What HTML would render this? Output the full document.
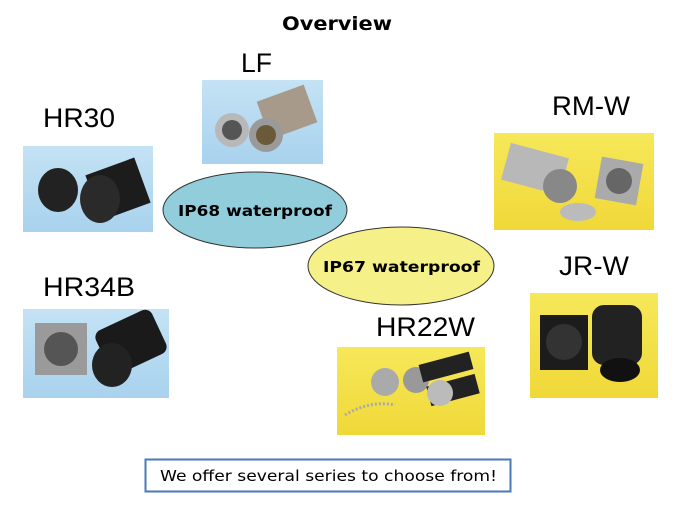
<!DOCTYPE html>
<html><head><meta charset="utf-8"><style>
body{margin:0;width:675px;height:506px;background:#fff;overflow:hidden}
svg{display:block}
</style></head><body>
<svg width="675" height="506" xmlns="http://www.w3.org/2000/svg" font-family="'DejaVu Sans','Liberation Sans',sans-serif">
<defs>
<linearGradient id="bl" x1="0" y1="0" x2="0" y2="1"><stop offset="0" stop-color="#c4e2f4"/><stop offset="1" stop-color="#a9d2ee"/></linearGradient>
<linearGradient id="ye" x1="0" y1="0" x2="0" y2="1"><stop offset="0" stop-color="#f6e85a"/><stop offset="1" stop-color="#f0d838"/></linearGradient>
</defs>
<text x="282" y="30" font-size="19" font-weight="bold" fill="#000" textLength="110" lengthAdjust="spacingAndGlyphs">Overview</text>

<g font-size="27" font-family="'Liberation Sans',sans-serif">
<text x="241" y="72" textLength="31" lengthAdjust="spacingAndGlyphs">LF</text>
<text x="43" y="127" textLength="72" lengthAdjust="spacingAndGlyphs">HR30</text>
<text x="552" y="115" textLength="78" lengthAdjust="spacingAndGlyphs">RM-W</text>
<text x="559" y="275" textLength="70" lengthAdjust="spacingAndGlyphs">JR-W</text>
<text x="43" y="296" textLength="92" lengthAdjust="spacingAndGlyphs">HR34B</text>
<text x="376" y="336" textLength="99" lengthAdjust="spacingAndGlyphs">HR22W</text>
</g>

<!-- LF -->
<rect x="202" y="80" width="121" height="84" fill="url(#bl)"/>
<circle cx="232" cy="130" r="17" fill="#b8b8b8"/><circle cx="232" cy="130" r="10" fill="#555"/>
<rect x="262" y="92" width="50" height="40" fill="#a89a8a" transform="rotate(-20 287 112)"/>
<circle cx="266" cy="135" r="17" fill="#9a9a9a"/><circle cx="266" cy="135" r="10" fill="#6a5a3a"/>
<!-- HR30 -->
<rect x="23" y="146" width="130" height="86" fill="url(#bl)"/>
<ellipse cx="58" cy="190" rx="20" ry="22" fill="#222"/>
<rect x="92" y="165" width="52" height="48" fill="#1c1c1c" transform="rotate(-20 118 189)"/>
<ellipse cx="100" cy="199" rx="20" ry="24" fill="#2a2a2a"/>
<!-- RM-W -->
<rect x="494" y="133" width="160" height="97" fill="url(#ye)"/>
<rect x="505" y="150" width="60" height="38" fill="#b8b8b8" transform="rotate(15 535 169)"/>
<circle cx="560" cy="186" r="17" fill="#888"/>
<ellipse cx="578" cy="212" rx="18" ry="9" fill="#bbb"/>
<rect x="598" y="160" width="42" height="42" fill="#aaa" transform="rotate(10 619 181)"/>
<circle cx="619" cy="181" r="13" fill="#666"/>
<!-- JR-W -->
<rect x="530" y="293" width="128" height="105" fill="url(#ye)"/>
<rect x="540" y="315" width="48" height="55" fill="#1c1c1c"/>
<circle cx="564" cy="342" r="18" fill="#333"/>
<rect x="592" y="305" width="50" height="60" rx="12" fill="#222"/>
<ellipse cx="620" cy="370" rx="20" ry="12" fill="#111"/>
<!-- HR34B -->
<rect x="23" y="309" width="146" height="89" fill="url(#bl)"/>
<rect x="35" y="323" width="52" height="52" fill="#9a9a9a"/>
<circle cx="61" cy="349" r="17" fill="#555"/>
<rect x="100" y="318" width="62" height="48" rx="8" fill="#1a1a1a" transform="rotate(-25 131 342)"/>
<ellipse cx="112" cy="365" rx="20" ry="22" fill="#222"/>
<!-- HR22W -->
<rect x="337" y="347" width="148" height="88" fill="url(#ye)"/>
<circle cx="385" cy="382" r="14" fill="#aaa"/>
<ellipse cx="416" cy="380" rx="13" ry="13" fill="#999"/>
<rect x="420" y="358" width="52" height="18" fill="#222" transform="rotate(-15 446 367)"/>
<rect x="428" y="380" width="50" height="20" fill="#222" transform="rotate(-15 453 390)"/>
<circle cx="440" cy="393" r="13" fill="#bbb"/>
<path d="M345 415 Q370 400 395 405" stroke="#aaa" stroke-width="3" fill="none" stroke-dasharray="2 2"/>

<ellipse cx="255" cy="210" rx="92" ry="38" fill="#92cddc" stroke="#333" stroke-width="1"/>
<text x="178" y="216" font-size="15" font-weight="bold" fill="#000" textLength="154" lengthAdjust="spacingAndGlyphs">IP68 waterproof</text>
<ellipse cx="401" cy="266" rx="93" ry="39" fill="#f5f088" stroke="#333" stroke-width="1"/>
<text x="323" y="272" font-size="15" font-weight="bold" fill="#000" textLength="157" lengthAdjust="spacingAndGlyphs">IP67  waterproof</text>

<rect x="145.5" y="459.5" width="365" height="32" fill="#fff" stroke="#4a7ab8" stroke-width="2"/>
<text x="160" y="481" font-size="15" fill="#000" textLength="337" lengthAdjust="spacingAndGlyphs">We offer several series to choose from!</text>
</svg>
</body></html>
